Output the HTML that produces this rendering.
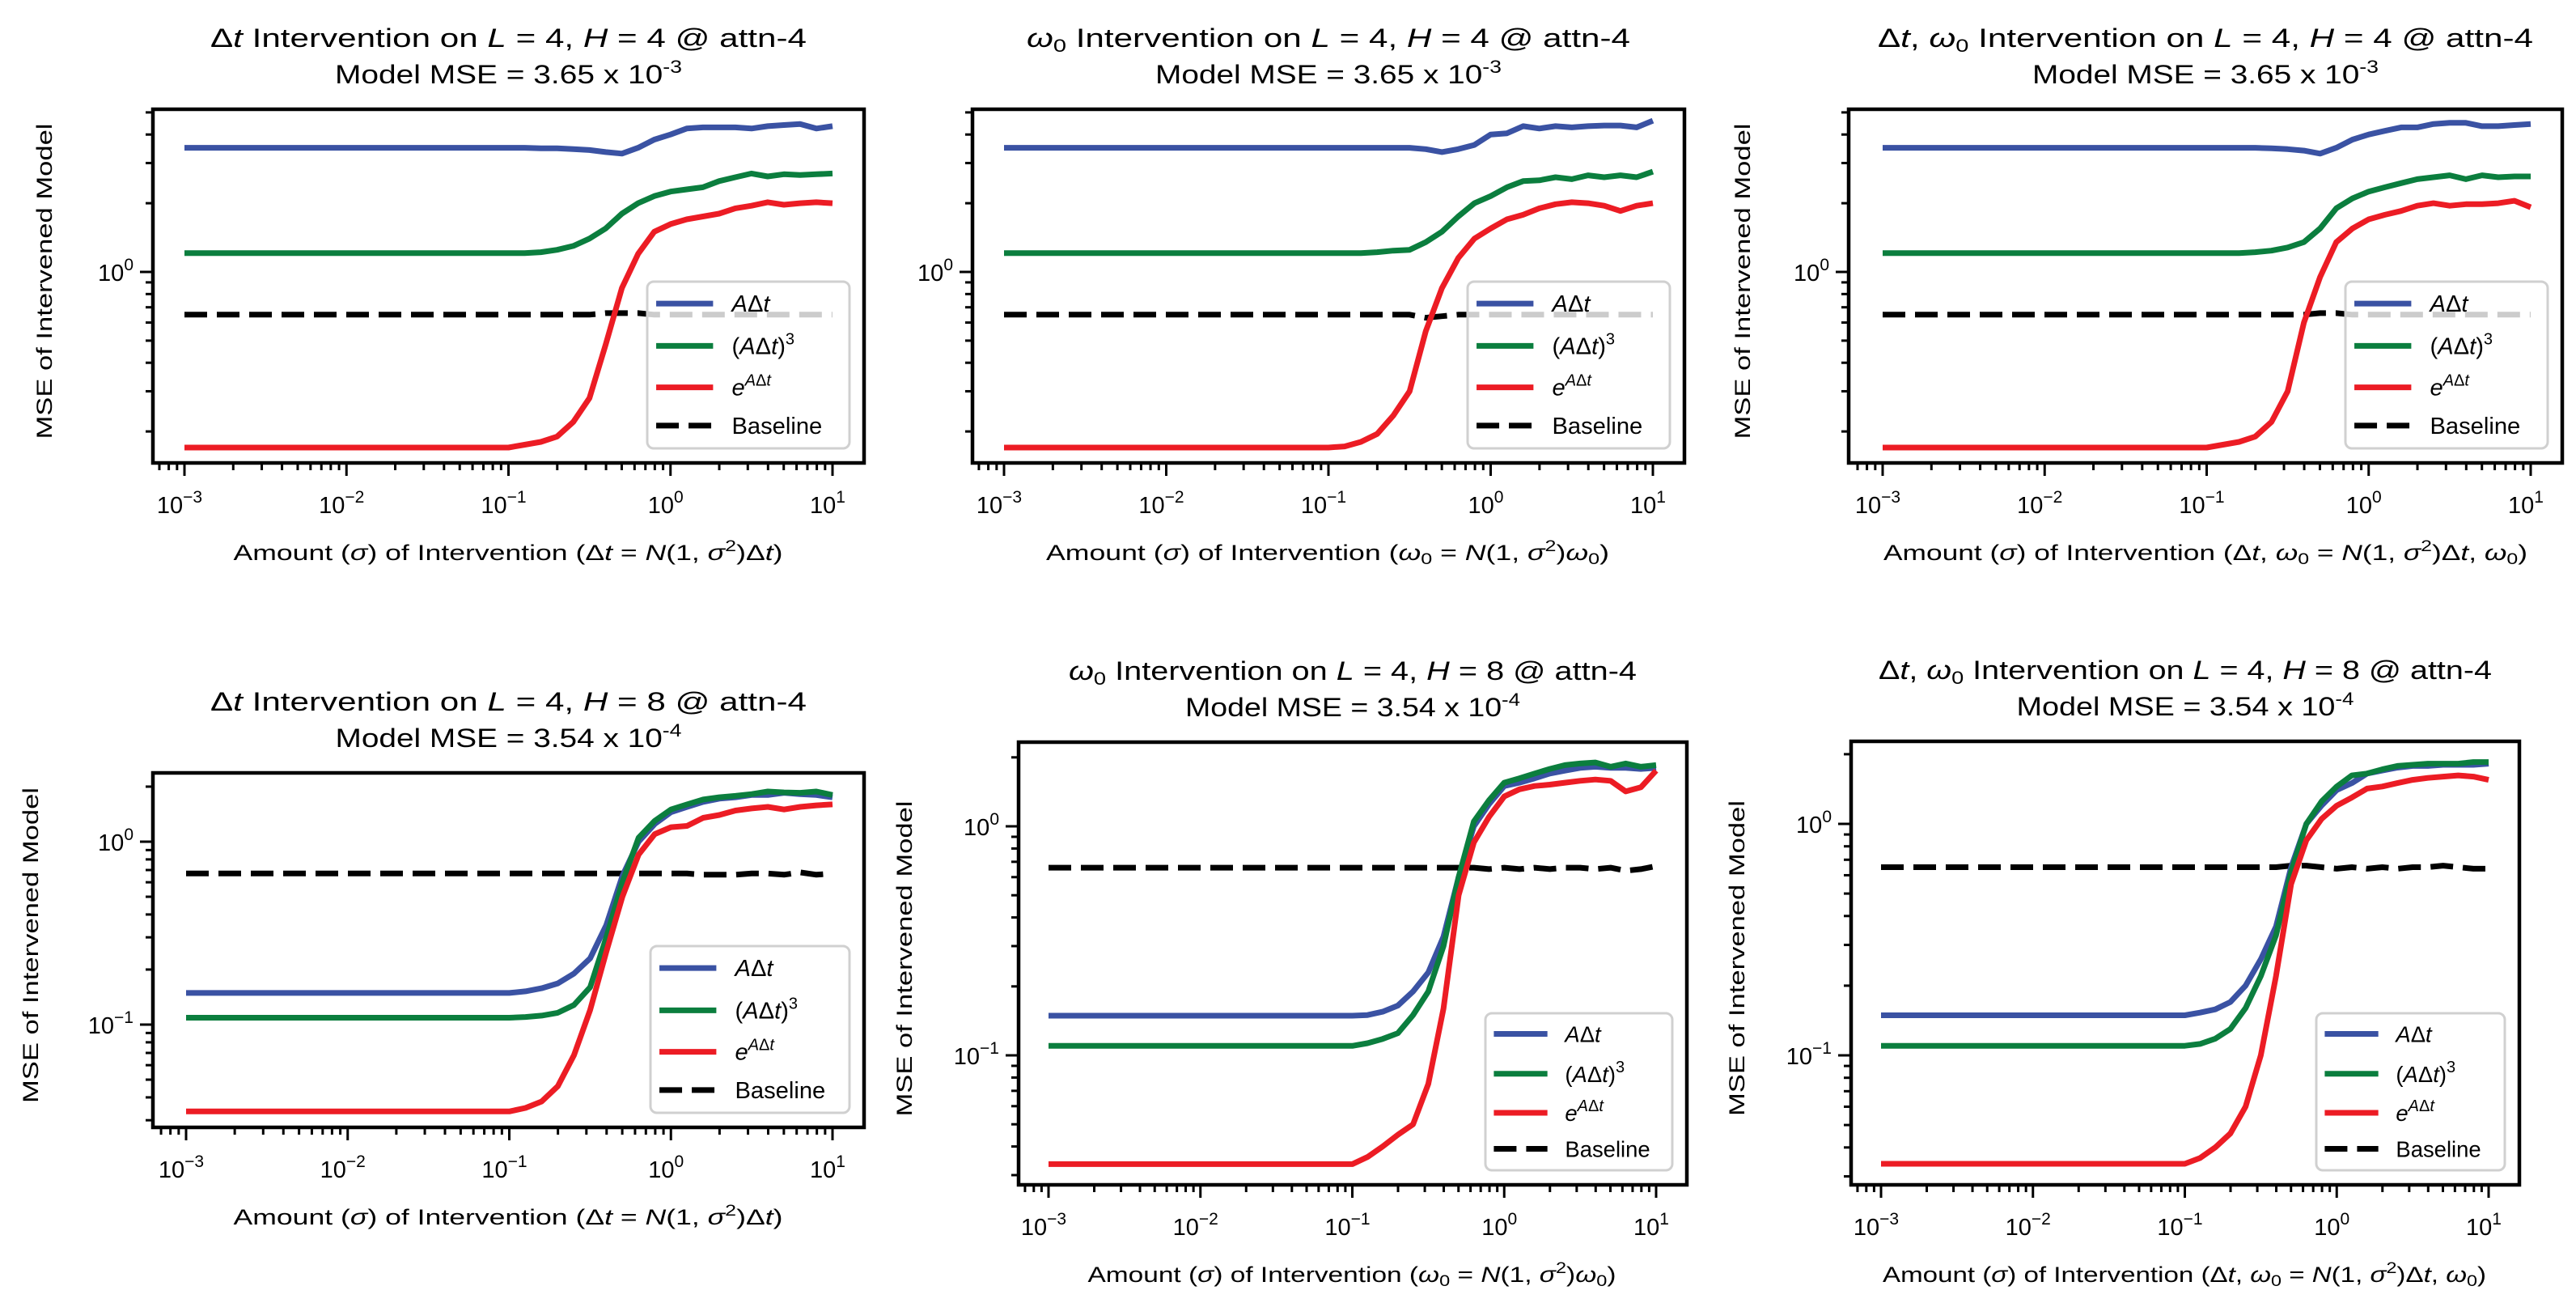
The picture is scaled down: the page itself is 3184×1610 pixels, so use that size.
<!DOCTYPE html>
<html><head><meta charset="utf-8"><style>
html,body{margin:0;padding:0;background:#fff;}
svg{display:block;}
text{font-family:"Liberation Sans","DejaVu Sans",sans-serif;fill:#000;}
</style></head><body>
<svg id="fig" xmlns="http://www.w3.org/2000/svg" width="3184" height="1610" viewBox="0 0 3184 1610"></svg>
<script>
const SIGMA_LOG = [-3,-2.9,-2.8,-2.7,-2.6,-2.5,-2.4,-2.3,-2.2,-2.1,-2,-1.9,-1.8,-1.7,-1.6,-1.5,-1.4,-1.3,-1.2,-1.1,-1,-0.9,-0.8,-0.7,-0.6,-0.5,-0.4,-0.3,-0.2,-0.1,0,0.1,0.2,0.3,0.4,0.5,0.6,0.7,0.8,0.9,1];
const X_TICK_EXP = [-3,-2,-1,0,1];

const TL_BLUE = [3.5,3.5,3.5,3.5,3.5,3.5,3.5,3.5,3.5,3.5,3.5,3.5,3.5,3.5,3.5,3.5,3.5,3.5,3.5,3.5,3.5, 3.5,3.48,3.48,3.45,3.42,3.35,3.3,3.5,3.8,4.0,4.25,4.3,4.3,4.3,4.25,4.35,4.4,4.45,4.25,4.35];
const TL_GREEN = [1.21,1.21,1.21,1.21,1.21,1.21,1.21,1.21,1.21,1.21,1.21,1.21,1.21,1.21,1.21,1.21,1.21,1.21,1.21,1.21,1.21, 1.21,1.22,1.25,1.3,1.4,1.55,1.8,2.0,2.15,2.25,2.3,2.35,2.5,2.6,2.7,2.62,2.68,2.66,2.68,2.7];
const TL_RED = [0.17,0.17,0.17,0.17,0.17,0.17,0.17,0.17,0.17,0.17,0.17,0.17,0.17,0.17,0.17,0.17,0.17,0.17,0.17,0.17,0.17, 0.175,0.18,0.19,0.22,0.28,0.48,0.85,1.2,1.5,1.62,1.7,1.75,1.8,1.9,1.95,2.02,1.97,2.0,2.02,2.0];
const TL_BASE = [0.65,0.65,0.65,0.65,0.65,0.65,0.65,0.65,0.65,0.65,0.65,0.65,0.65,0.65,0.65,0.65,0.65,0.65,0.65,0.65,0.65, 0.65,0.65,0.65,0.65,0.65,0.66,0.66,0.66,0.65,0.65,0.65,0.65,0.65,0.65,0.65,0.65,0.65,0.65,0.65,0.65];

const TM_BLUE = [3.5,3.5,3.5,3.5,3.5,3.5,3.5,3.5,3.5,3.5,3.5,3.5,3.5,3.5,3.5,3.5,3.5,3.5,3.5,3.5,3.5, 3.5,3.5,3.5,3.5,3.5,3.45,3.35,3.45,3.6,4.0,4.05,4.35,4.25,4.35,4.3,4.35,4.38,4.38,4.3,4.6];
const TM_GREEN = [1.21,1.21,1.21,1.21,1.21,1.21,1.21,1.21,1.21,1.21,1.21,1.21,1.21,1.21,1.21,1.21,1.21,1.21,1.21,1.21,1.21, 1.21,1.21,1.22,1.24,1.25,1.35,1.5,1.75,2.0,2.15,2.35,2.5,2.52,2.6,2.55,2.65,2.6,2.65,2.6,2.75];
const TM_RED = [0.17,0.17,0.17,0.17,0.17,0.17,0.17,0.17,0.17,0.17,0.17,0.17,0.17,0.17,0.17,0.17,0.17,0.17,0.17,0.17,0.17, 0.172,0.18,0.195,0.235,0.3,0.55,0.85,1.15,1.4,1.55,1.7,1.78,1.9,1.98,2.02,2.0,1.95,1.85,1.95,2.0];
const TM_BASE = [0.65,0.65,0.65,0.65,0.65,0.65,0.65,0.65,0.65,0.65,0.65,0.65,0.65,0.65,0.65,0.65,0.65,0.65,0.65,0.65,0.65, 0.65,0.65,0.65,0.65,0.65,0.63,0.64,0.65,0.65,0.65,0.65,0.65,0.65,0.65,0.65,0.65,0.65,0.65,0.65,0.65];

const TR_BLUE = [3.5,3.5,3.5,3.5,3.5,3.5,3.5,3.5,3.5,3.5,3.5,3.5,3.5,3.5,3.5,3.5,3.5,3.5,3.5,3.5,3.5, 3.5,3.5,3.5,3.48,3.45,3.4,3.3,3.5,3.8,4.0,4.15,4.3,4.3,4.45,4.5,4.5,4.35,4.35,4.4,4.45];
const TR_GREEN = [1.21,1.21,1.21,1.21,1.21,1.21,1.21,1.21,1.21,1.21,1.21,1.21,1.21,1.21,1.21,1.21,1.21,1.21,1.21,1.21,1.21, 1.21,1.21,1.22,1.24,1.28,1.35,1.55,1.9,2.1,2.25,2.35,2.45,2.55,2.6,2.65,2.55,2.65,2.6,2.62,2.62];
const TR_RED = [0.17,0.17,0.17,0.17,0.17,0.17,0.17,0.17,0.17,0.17,0.17,0.17,0.17,0.17,0.17,0.17,0.17,0.17,0.17,0.17,0.17, 0.175,0.18,0.19,0.22,0.3,0.6,0.95,1.35,1.55,1.7,1.78,1.85,1.95,2.0,1.95,1.98,1.98,2.0,2.05,1.92];
const TR_BASE = [0.65,0.65,0.65,0.65,0.65,0.65,0.65,0.65,0.65,0.65,0.65,0.65,0.65,0.65,0.65,0.65,0.65,0.65,0.65,0.65,0.65, 0.65,0.65,0.65,0.65,0.65,0.65,0.66,0.66,0.65,0.65,0.65,0.65,0.65,0.65,0.65,0.65,0.65,0.65,0.65,0.65];

const BL_BLUE = [0.149,0.149,0.149,0.149,0.149,0.149,0.149,0.149,0.149,0.149,0.149,0.149,0.149,0.149,0.149,0.149,0.149,0.149,0.149,0.149,0.149, 0.152,0.158,0.168,0.19,0.23,0.35,0.65,1.0,1.25,1.45,1.55,1.65,1.72,1.75,1.8,1.8,1.85,1.82,1.8,1.75];
const BL_GREEN = [0.109,0.109,0.109,0.109,0.109,0.109,0.109,0.109,0.109,0.109,0.109,0.109,0.109,0.109,0.109,0.109,0.109,0.109,0.109,0.109,0.109, 0.11,0.112,0.116,0.128,0.16,0.3,0.6,1.05,1.3,1.5,1.6,1.7,1.75,1.78,1.82,1.88,1.86,1.85,1.88,1.8];
const BL_RED = [0.0335,0.0335,0.0335,0.0335,0.0335,0.0335,0.0335,0.0335,0.0335,0.0335,0.0335,0.0335,0.0335,0.0335,0.0335,0.0335,0.0335,0.0335,0.0335,0.0335,0.0335, 0.035,0.038,0.046,0.068,0.12,0.25,0.5,0.85,1.1,1.2,1.22,1.35,1.4,1.48,1.52,1.55,1.5,1.55,1.58,1.6];
const BL_BASE = [0.67,0.67,0.67,0.67,0.67,0.67,0.67,0.67,0.67,0.67,0.67,0.67,0.67,0.67,0.67,0.67,0.67,0.67,0.67,0.67,0.67, 0.67,0.67,0.67,0.67,0.67,0.67,0.67,0.67,0.67,0.67,0.67,0.66,0.66,0.66,0.67,0.67,0.66,0.68,0.66,0.67];

const BM_BLUE = [0.149,0.149,0.149,0.149,0.149,0.149,0.149,0.149,0.149,0.149,0.149,0.149,0.149,0.149,0.149,0.149,0.149,0.149,0.149,0.149,0.149, 0.15,0.155,0.165,0.19,0.23,0.33,0.6,1.0,1.25,1.5,1.55,1.62,1.7,1.75,1.8,1.82,1.8,1.8,1.78,1.8];
const BM_GREEN = [0.11,0.11,0.11,0.11,0.11,0.11,0.11,0.11,0.11,0.11,0.11,0.11,0.11,0.11,0.11,0.11,0.11,0.11,0.11,0.11,0.11, 0.113,0.118,0.125,0.15,0.19,0.3,0.6,1.05,1.3,1.55,1.62,1.7,1.78,1.85,1.88,1.9,1.82,1.88,1.82,1.85];
const BM_RED = [0.0335,0.0335,0.0335,0.0335,0.0335,0.0335,0.0335,0.0335,0.0335,0.0335,0.0335,0.0335,0.0335,0.0335,0.0335,0.0335,0.0335,0.0335,0.0335,0.0335,0.0335, 0.036,0.04,0.045,0.05,0.075,0.16,0.5,0.85,1.1,1.35,1.45,1.5,1.52,1.55,1.58,1.6,1.58,1.42,1.48,1.75];
const BM_BASE = [0.66,0.66,0.66,0.66,0.66,0.66,0.66,0.66,0.66,0.66,0.66,0.66,0.66,0.66,0.66,0.66,0.66,0.66,0.66,0.66,0.66, 0.66,0.66,0.66,0.66,0.66,0.66,0.66,0.66,0.65,0.66,0.65,0.66,0.65,0.66,0.66,0.65,0.66,0.64,0.65,0.67];

const BR_BLUE = [0.149,0.149,0.149,0.149,0.149,0.149,0.149,0.149,0.149,0.149,0.149,0.149,0.149,0.149,0.149,0.149,0.149,0.149,0.149,0.149,0.149, 0.153,0.158,0.17,0.2,0.26,0.36,0.65,1.0,1.2,1.4,1.5,1.65,1.7,1.75,1.78,1.78,1.8,1.8,1.8,1.82];
const BR_GREEN = [0.11,0.11,0.11,0.11,0.11,0.11,0.11,0.11,0.11,0.11,0.11,0.11,0.11,0.11,0.11,0.11,0.11,0.11,0.11,0.11,0.11, 0.112,0.118,0.13,0.16,0.22,0.33,0.62,1.0,1.25,1.45,1.62,1.65,1.72,1.78,1.8,1.82,1.82,1.82,1.85,1.85];
const BR_RED = [0.034,0.034,0.034,0.034,0.034,0.034,0.034,0.034,0.034,0.034,0.034,0.034,0.034,0.034,0.034,0.034,0.034,0.034,0.034,0.034,0.034, 0.036,0.04,0.046,0.06,0.1,0.22,0.55,0.85,1.05,1.2,1.3,1.42,1.45,1.5,1.55,1.58,1.6,1.62,1.6,1.55];
const BR_BASE = [0.65,0.65,0.65,0.65,0.65,0.65,0.65,0.65,0.65,0.65,0.65,0.65,0.65,0.65,0.65,0.65,0.65,0.65,0.65,0.65,0.65, 0.65,0.65,0.65,0.65,0.65,0.65,0.66,0.66,0.65,0.64,0.65,0.64,0.65,0.64,0.65,0.65,0.66,0.65,0.64,0.64];

const NS = "http://www.w3.org/2000/svg";
const fig = document.getElementById('fig');
function mk(tag, attrs, parent){
  const e = document.createElementNS(NS, tag);
  for (const k in attrs) e.setAttribute(k, attrs[k]);
  (parent||fig).appendChild(e);
  return e;
}
const COLORS = {blue:'#3a52a3', green:'#0b7e3e', red:'#ec1c24', base:'#000'};

function drawPanel(p){
  const g = mk('g', {});
  
  
  const xs = lg => p.x0 + (lg + 3) / 4 * (p.x1 - p.x0);
  const ys = v => p.y0 - Math.log10(v) * p.dec;
  const lgMin = -3 + (p.L - p.x0) / (p.x1 - p.x0) * 4;
  const lgMax = -3 + (p.R - p.x0) / (p.x1 - p.x0) * 4;
  const vMax = Math.pow(10, (p.y0 - p.T) / p.dec);
  const vMin = Math.pow(10, (p.y0 - p.B) / p.dec);

  // clip
  const cp = mk('clipPath', {id: 'clip-' + p.id}, g);
  mk('rect', {x: p.L, y: p.T, width: p.R - p.L, height: p.B - p.T}, cp);

  // series
  const series = [[p.blue, 'blue', 'series-a-dt'], [p.green, 'green', 'series-a-dt-cubed'], [p.red, 'red', 'series-exp-a-dt'], [p.base, 'base', 'series-baseline']];
  const order = [3, 0, 1, 2];
  order.forEach(si => {
    const s = series[si];
    const d = s[0].map((v, i) => (i ? 'L' : 'M') + xs(SIGMA_LOG[i]).toFixed(1) + ',' + ys(v).toFixed(1)).join(' ');
    const path = mk('path', {d: d, fill: 'none', stroke: COLORS[s[1]], 'stroke-width': 7, 'stroke-linejoin': 'round', 'clip-path': 'url(#clip-' + p.id + ')'}, g);
    if (s[1] === 'base') path.setAttribute('stroke-dasharray', '28 12');
    
    
  });

  // spines
  const frame = mk('rect', {x: p.L, y: p.T, width: p.R - p.L, height: p.B - p.T, fill: 'none', stroke: '#000', 'stroke-width': 4.5}, g);
  
  

  // x ticks
  const xt = mk('g', {stroke: '#000', 'stroke-width': 3}, g);
  
  
  for (let e = -4; e <= 1; e++) {
    for (let k = 1; k <= 9; k++) {
      const lg = e + Math.log10(k);
      if (lg < lgMin || lg > lgMax) continue;
      const x = xs(lg);
      mk('line', {x1: x, x2: x, y1: p.B, y2: p.B + (k === 1 ? 16 : 9)}, xt);
    }
  }
  X_TICK_EXP.forEach(e => {
    const t = mk('text', {x: xs(e) - 6, y: p.B + 62, 'text-anchor': 'middle', 'font-size': 29});
    t.innerHTML = '10<tspan dy="-13" font-size="21">' + (e < 0 ? '\u2212' + (-e) : e) + '</tspan>';
    
    
    g.appendChild(t);
  });

  // y ticks
  const yt = mk('g', {stroke: '#000', 'stroke-width': 3}, g);
  
  
  for (let e = -2; e <= 0; e++) {
    for (let k = 1; k <= 9; k++) {
      const v = k * Math.pow(10, e);
      if (v < vMin || v > vMax) continue;
      const y = ys(v);
      mk('line', {x1: p.L, x2: p.L - (k === 1 ? 16 : 9), y1: y, y2: y}, yt);
    }
  }
  p.yMajors.forEach(e => {
    const t = mk('text', {x: p.L - 24, y: ys(Math.pow(10, e)) + 11, 'text-anchor': 'end', 'font-size': 29});
    t.innerHTML = '10<tspan dy="-13" font-size="21">' + (e < 0 ? '\u2212' + (-e) : e) + '</tspan>';
    
    
    g.appendChild(t);
  });

  const cx = (p.L + p.R) / 2;
  // titles
  const t1 = mk('text', {x: cx, y: p.T - 77, 'text-anchor': 'middle', 'font-size': 32, textLength: p.t1w, lengthAdjust: 'spacingAndGlyphs'}, g);
  t1.innerHTML = p.title1;
  
  
  const t2 = mk('text', {x: cx, y: p.T - 32, 'text-anchor': 'middle', 'font-size': 32, textLength: p.t2w, lengthAdjust: 'spacingAndGlyphs'}, g);
  t2.innerHTML = 'Model MSE = ' + p.mse + ' x 10<tspan dy="-13" font-size="22">' + p.mseExp + '</tspan>';
  
  

  // x label
  const xl = mk('text', {x: p.xlx, y: p.B + 120, 'text-anchor': 'middle', 'font-size': 27, textLength: p.xlw, lengthAdjust: 'spacingAndGlyphs'}, g);
  xl.innerHTML = p.xlabel;
  
  

  // y label
  if (p.ylOff) {
    const yc = (p.T + p.B) / 2 - 6;
    const yl = mk('text', {x: p.L - p.ylOff, y: yc, 'text-anchor': 'middle', 'font-size': 27, 'dominant-baseline': 'central', textLength: 390, lengthAdjust: 'spacingAndGlyphs', transform: 'rotate(-90 ' + (p.L - p.ylOff) + ' ' + yc + ')'}, g);
    yl.textContent = 'MSE of Intervened Model';
    
    
  }

  // legend
  const s = p.lh / 205;
  const lx = p.R - p.lw - 18, ly = p.B - p.lh - 18;
  const lg = mk('g', {}, g);
  
  
  mk('rect', {x: lx, y: ly, width: p.lw, height: p.lh, rx: 8, fill: 'rgba(255,255,255,0.8)', stroke: '#d0d0d0', 'stroke-width': 3}, lg);
  const labels = ['<tspan font-style="italic">A</tspan>Δ<tspan font-style="italic">t</tspan>',
    '(<tspan font-style="italic">A</tspan>Δ<tspan font-style="italic">t</tspan>)<tspan dy="-12" font-size="20">3</tspan>',
    '<tspan font-style="italic">e</tspan><tspan dy="-12" font-size="20"><tspan font-style="italic">A</tspan>Δ<tspan font-style="italic">t</tspan></tspan>',
    'Baseline'];
  const keys = ['blue', 'green', 'red', 'base'];
  const names = ['legend-entry-a-dt', 'legend-entry-a-dt-cubed', 'legend-entry-exp-a-dt', 'legend-entry-baseline'];
  const rows = [27, 79, 130, 177];
  keys.forEach((k, i) => {
    const y = ly + rows[i] * s;
    const eg = mk('g', {}, lg);
    
    
    const ln = mk('line', {x1: lx + 11 * s, x2: lx + 81 * s, y1: y, y2: y, stroke: COLORS[k], 'stroke-width': 7}, eg);
    if (k === 'base') ln.setAttribute('stroke-dasharray', '28 12');
    const tx = mk('text', {x: lx + 104 * s, y: y + 10, 'font-size': 29 * s}, eg);
    tx.innerHTML = labels[i];
  });
}

const T1 = '<tspan>Δ</tspan><tspan font-style="italic">t</tspan> Intervention on ';
const W1 = '<tspan font-style="italic">ω</tspan><tspan dy="6" font-size="22">0</tspan><tspan dy="-6"> Intervention on </tspan>';
const DW = '<tspan>Δ</tspan><tspan font-style="italic">t</tspan>, <tspan font-style="italic">ω</tspan><tspan dy="6" font-size="22">0</tspan><tspan dy="-6"> Intervention on </tspan>';
const LH = h => '<tspan font-style="italic">L</tspan> = 4, <tspan font-style="italic">H</tspan> = ' + h + ' @ attn-4';
const XL_DT = 'Amount (<tspan font-style="italic">σ</tspan>) of Intervention (Δ<tspan font-style="italic">t</tspan> = <tspan font-style="italic">N</tspan>(1, <tspan font-style="italic">σ</tspan><tspan dy="-11" font-size="19">2</tspan><tspan dy="11">)Δ</tspan><tspan font-style="italic">t</tspan>)';
const XL_W = 'Amount (<tspan font-style="italic">σ</tspan>) of Intervention (<tspan font-style="italic">ω</tspan><tspan dy="5" font-size="19">0</tspan><tspan dy="-5"> = </tspan><tspan font-style="italic">N</tspan>(1, <tspan font-style="italic">σ</tspan><tspan dy="-11" font-size="19">2</tspan><tspan dy="11">)</tspan><tspan font-style="italic">ω</tspan><tspan dy="5" font-size="19">0</tspan><tspan dy="-5">)</tspan>';
const XL_DW = 'Amount (<tspan font-style="italic">σ</tspan>) of Intervention (Δ<tspan font-style="italic">t</tspan>, <tspan font-style="italic">ω</tspan><tspan dy="5" font-size="19">0</tspan><tspan dy="-5"> = </tspan><tspan font-style="italic">N</tspan>(1, <tspan font-style="italic">σ</tspan><tspan dy="-11" font-size="19">2</tspan><tspan dy="11">)Δ</tspan><tspan font-style="italic">t</tspan>, <tspan font-style="italic">ω</tspan><tspan dy="5" font-size="19">0</tspan><tspan dy="-5">)</tspan>';

drawPanel({id:'tl', L:189, R:1068, T:135, B:572, x0:228, x1:1029, y0:336, dec:282, yMajors:[0],
  title1: T1 + LH(4), t1w:737, t2w:429, mse:'3.65', mseExp:'-3', xlabel: XL_DT, xlx:628, xlw:679, ylOff:134,
  lw:250, lh:206, blue:TL_BLUE, green:TL_GREEN, red:TL_RED, base:TL_BASE});
drawPanel({id:'tm', L:1202, R:2082, T:135, B:572, x0:1241, x1:2043, y0:336, dec:282, yMajors:[0],
  title1: W1 + LH(4), t1w:746, t2w:428, mse:'3.65', mseExp:'-3', xlabel: XL_W, xlx:1641, xlw:696, ylOff:0,
  lw:250, lh:206, blue:TM_BLUE, green:TM_GREEN, red:TM_RED, base:TM_BASE});
drawPanel({id:'tr', L:2285, R:3167, T:135, B:572, x0:2327, x1:3128, y0:336, dec:282, yMajors:[0],
  title1: DW + LH(4), t1w:810, t2w:428, mse:'3.65', mseExp:'-3', xlabel: XL_DW, xlx:2726, xlw:796, ylOff:131,
  lw:250, lh:206, blue:TR_BLUE, green:TR_GREEN, red:TR_RED, base:TR_BASE});
drawPanel({id:'bl', L:189, R:1068, T:955, B:1393, x0:230, x1:1029, y0:1040, dec:226, yMajors:[0,-1],
  title1: T1 + LH(8), t1w:737, t2w:428, mse:'3.54', mseExp:'-4', xlabel: XL_DT, xlx:628, xlw:679, ylOff:151,
  lw:246, lh:206, blue:BL_BLUE, green:BL_GREEN, red:BL_RED, base:BL_BASE});
drawPanel({id:'bm', L:1259, R:2085, T:917, B:1464, x0:1296, x1:2047, y0:1021, dec:283, yMajors:[0,-1],
  title1: W1 + LH(8), t1w:702, t2w:414, mse:'3.54', mseExp:'-4', xlabel: XL_W, xlx:1671, xlw:653, ylOff:141,
  lw:231, lh:194, blue:BM_BLUE, green:BM_GREEN, red:BM_RED, base:BM_BASE});
drawPanel({id:'br', L:2288, R:3114, T:916, B:1464, x0:2325, x1:3076, y0:1018, dec:286, yMajors:[0,-1],
  title1: DW + LH(8), t1w:758, t2w:417, mse:'3.54', mseExp:'-4', xlabel: XL_DW, xlx:2700, xlw:746, ylOff:141,
  lw:233, lh:194, blue:BR_BLUE, green:BR_GREEN, red:BR_RED, base:BR_BASE});
</script>
</body></html>
